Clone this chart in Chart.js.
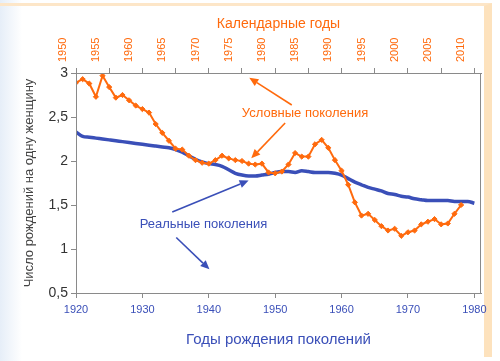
<!DOCTYPE html>
<html>
<head>
<meta charset="utf-8">
<script src="https://cdn.jsdelivr.net/npm/chart.js@4.4.1/dist/chart.umd.min.js"></script>
<style>
  html, body { margin: 0; padding: 0; }
  body { width: 500px; height: 361px; overflow: hidden; position: relative;
         background: linear-gradient(to right, #e6eef8 0px, #ffffff 22px, #ffffff 100%); }
  #frame { position: absolute; left: 0; top: 3px; width: 492px; height: 354px;
           border-top: 3px solid #fde6c8; border-right: 8px solid #fde2bd; box-sizing: border-box; }
  #wrap { position: absolute; left: 0; top: 0; width: 500px; height: 361px; }
</style>
</head>
<body>
<div id="frame"></div>
<div id="wrap"><canvas id="c" width="500" height="361"></canvas></div>
<script>
// ---- data ----
const calendarYears = [1950,1951,1952,1953,1954,1955,1956,1957,1958,1959,
  1960,1961,1962,1963,1964,1965,1966,1967,1968,1969,
  1970,1971,1972,1973,1974,1975,1976,1977,1978,1979,
  1980,1981,1982,1983,1984,1985,1986,1987,1988,1989,
  1990,1991,1992,1993,1994,1995,1996,1997,1998,1999,
  2000,2001,2002,2003,2004,2005,2006,2007,2008];
const conditionalTFR = [2.89,2.93,2.88,2.73,2.97,2.84,2.72,2.75,2.69,2.63,
  2.59,2.55,2.42,2.32,2.23,2.14,2.13,2.06,2.01,1.98,
  1.97,2.01,2.06,2.03,2.01,2.00,1.97,1.96,1.97,1.87,
  1.86,1.88,1.96,2.09,2.05,2.05,2.19,2.24,2.15,2.01,
  1.89,1.73,1.53,1.38,1.40,1.33,1.26,1.21,1.23,1.15,
  1.19,1.21,1.28,1.31,1.34,1.28,1.29,1.40,1.50];
const cohortYears = [1920,1921,1922,1923,1924,1925,1926,1927,1928,1929,
  1930,1931,1932,1933,1934,1935,1936,1937,1938,1939,
  1940,1941,1942,1943,1944,1945,1946,1947,1948,1949,
  1950,1951,1952,1953,1954,1955,1956,1957,1958,1959,
  1960,1961,1962,1963,1964,1965,1966,1967,1968,1969,
  1970,1971,1972,1973,1974,1975,1976,1977,1978,1979,1980];
const cohortTFR = [2.33,2.28,2.27,2.26,2.25,2.24,2.23,2.22,2.21,2.20,
  2.19,2.18,2.17,2.16,2.15,2.13,2.10,2.06,2.02,1.99,
  1.97,1.96,1.94,1.90,1.86,1.84,1.83,1.83,1.84,1.85,
  1.87,1.88,1.88,1.87,1.89,1.88,1.87,1.87,1.87,1.86,
  1.84,1.80,1.76,1.73,1.70,1.68,1.66,1.63,1.62,1.60,
  1.59,1.57,1.56,1.55,1.55,1.55,1.55,1.54,1.54,1.54,1.52];
const birthYearTicks = [1920,1930,1940,1950,1960,1970,1980];
const calendarYearTicks = [1950,1955,1960,1965,1970,1975,1980,1985,1990,1995,2000,2005,2010];
const valueTicks = [0.5,1,1.5,2,2.5,3];

// ---- annotation layout (in axis units: birth year / births per woman) ----
const ORANGE = '#ff6a0d';
const BLUE = '#3a4fb8';
const notes = [
  { text: 'Условные поколения', x: 1954.5, y: 2.535, color: ORANGE },
  { text: 'Реальные поколения', x: 1939.2, y: 1.284, color: BLUE }
];
const arrows = [
  { from: [1952.5, 2.636], to: [1946.1, 2.945], color: ORANGE },
  { from: [1951.5, 2.432], to: [1946.4, 2.030], color: ORANGE },
  { from: [1934.5, 1.420], to: [1946.0, 1.778], color: BLUE },
  { from: [1935.1, 1.131], to: [1940.1, 0.769], color: BLUE }
];

Chart.defaults.font.family = '"Liberation Sans", Arial, sans-serif';

const overlay = {
  id: 'overlay',
  afterDraw(chart) {
    const ctx = chart.ctx, a = chart.chartArea;
    const sx = chart.scales.x, sy = chart.scales.y;
    ctx.save();
    ctx.strokeStyle = '#8a8a8a';
    ctx.lineWidth = 1;
    ctx.strokeRect(Math.round(a.left) + 0.5, Math.round(a.top) + 0.5,
                   Math.round(a.right - a.left) - 1, Math.round(a.bottom - a.top));
    arrows.forEach(ar => {
      const x1 = sx.getPixelForValue(ar.from[0]), y1 = sy.getPixelForValue(ar.from[1]);
      const x2 = sx.getPixelForValue(ar.to[0]), y2 = sy.getPixelForValue(ar.to[1]);
      const ang = Math.atan2(y2 - y1, x2 - x1);
      const hl = 9, hw = 4;
      const bx = x2 - hl * Math.cos(ang), by = y2 - hl * Math.sin(ang);
      ctx.strokeStyle = ar.color; ctx.fillStyle = ar.color; ctx.lineWidth = 1.6;
      ctx.beginPath(); ctx.moveTo(x1, y1); ctx.lineTo(bx, by); ctx.stroke();
      ctx.beginPath();
      ctx.moveTo(x2, y2);
      ctx.lineTo(bx + hw * Math.sin(ang), by - hw * Math.cos(ang));
      ctx.lineTo(bx - hw * Math.sin(ang), by + hw * Math.cos(ang));
      ctx.closePath(); ctx.fill();
    });
    ctx.font = '13px "Liberation Sans", Arial, sans-serif';
    ctx.textAlign = 'center'; ctx.textBaseline = 'middle';
    notes.forEach(n => {
      ctx.fillStyle = n.color;
      ctx.fillText(n.text, sx.getPixelForValue(n.x), sy.getPixelForValue(n.y));
    });
    ctx.restore();
  }
};

new Chart(document.getElementById('c'), {
  type: 'line',
  data: {
    datasets: [
      {
        label: 'Условные поколения',
        xAxisID: 'x2', yAxisID: 'y',
        data: calendarYears.map((yr, i) => ({ x: yr, y: conditionalTFR[i] })),
        borderColor: ORANGE, backgroundColor: ORANGE, borderWidth: 2,
        pointStyle: 'rectRot', pointRadius: 2.6, pointBorderWidth: 1,
        tension: 0, order: 0
      },
      {
        label: 'Реальные поколения',
        xAxisID: 'x', yAxisID: 'y',
        data: cohortYears.map((yr, i) => ({ x: yr, y: cohortTFR[i] })),
        borderColor: BLUE, backgroundColor: BLUE, borderWidth: 3.5,
        pointRadius: 0, cubicInterpolationMode: 'monotone', order: 1
      }
    ]
  },
  options: {
    responsive: false, animation: false, devicePixelRatio: 1,
    layout: { padding: { left: 0, right: 19, top: 0, bottom: 0 } },
    plugins: { legend: { display: false }, tooltip: { enabled: false } },
    scales: {
      x: {
        type: 'linear', position: 'bottom', min: 1920, max: 1981,
        afterBuildTicks: s => { s.ticks = birthYearTicks.map(v => ({ value: v })); },
        afterFit: s => { s.height = 68; },
        ticks: { color: BLUE, font: { size: 11 }, padding: 5, maxRotation: 0, callback: v => String(v) },
        grid: { drawOnChartArea: false, tickLength: 5, color: '#8a8a8a' },
        border: { color: '#8a8a8a' },
        title: { display: true, text: 'Годы рождения поколений', color: BLUE,
                 font: { size: 15 }, padding: { top: 0, bottom: 12 } }
      },
      x2: {
        type: 'linear', position: 'top', min: 1950, max: 2011,
        afterBuildTicks: s => { s.ticks = calendarYearTicks.map(v => ({ value: v })); },
        afterFit: s => { s.height = 73; },
        ticks: { color: ORANGE, font: { size: 11 }, padding: 6, minRotation: 90, maxRotation: 90,
                 callback: v => String(v) },
        grid: { drawOnChartArea: false, tickLength: 5, color: '#8a8a8a' },
        border: { color: '#8a8a8a' },
        title: { display: true, text: 'Календарные годы', color: ORANGE,
                 font: { size: 14 }, padding: { top: 15.6, bottom: 0 } }
      },
      y: {
        type: 'linear', position: 'left', min: 0.5, max: 3,
        afterBuildTicks: s => { s.ticks = valueTicks.map(v => ({ value: v })); },
        afterFit: s => { s.width = 76; },
        ticks: { color: '#333333', font: { size: 14 }, padding: 3,
                 callback: v => String(v).replace('.', ',') },
        grid: { drawOnChartArea: false, tickLength: 5, color: '#8a8a8a' },
        border: { color: '#8a8a8a' },
        title: { display: true, text: 'Число рождений на одну женщину', color: '#444444',
                 font: { size: 13 }, padding: { top: 22, bottom: 0 } }
      }
    }
  },
  plugins: [overlay]
});
</script>
</body>
</html>
